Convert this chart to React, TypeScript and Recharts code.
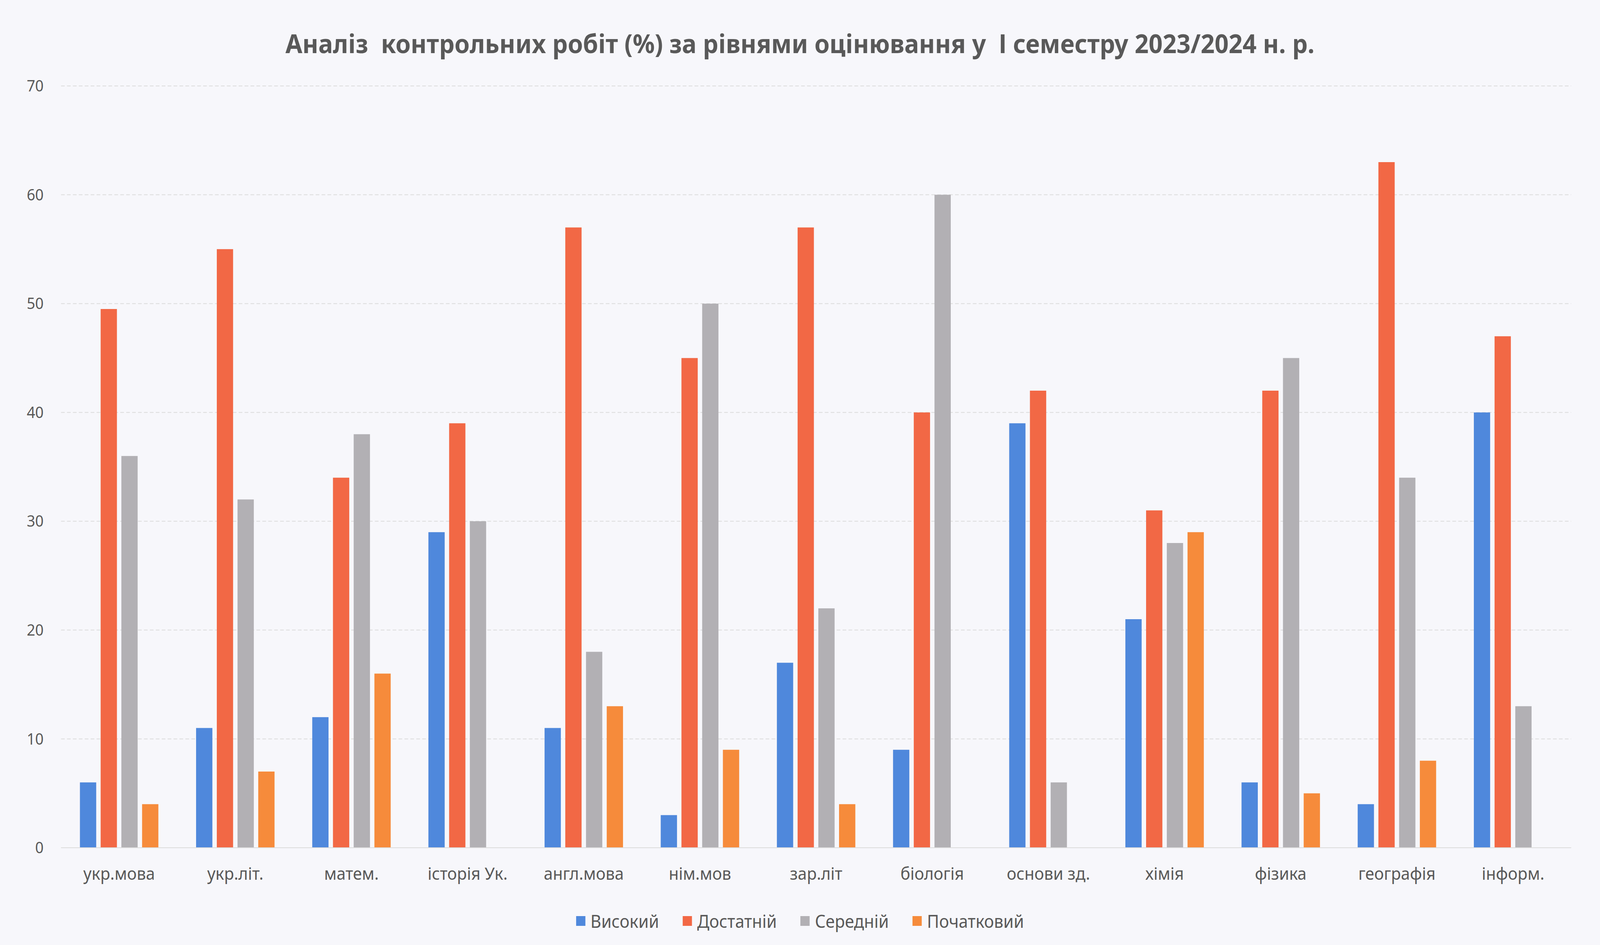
import { BarChart, Bar, XAxis, YAxis, CartesianGrid, Legend } from 'recharts';

const subjects = [
  'укр.мова',
  'укр.літ.',
  'матем.',
  'історія Ук.',
  'англ.мова',
  'нім.мов',
  'зар.літ',
  'біологія',
  'основи зд.',
  'хімія',
  'фізика',
  'географія',
  'інформ.',
];

const high = [6, 11, 12, 29, 11, 3, 17, 9, 39, 21, 6, 4, 40];
const sufficient = [49.5, 55, 34, 39, 57, 45, 57, 40, 42, 31, 42, 63, 47];
const middle = [36, 32, 38, 30, 18, 50, 22, 60, 6, 28, 45, 34, 13];
const initial = [4, 7, 16, 0, 13, 9, 4, 0, 0, 29, 5, 8, 0];

const yTicks = [0, 10, 20, 30, 40, 50, 60, 70];

const chartData = subjects.map((name, i) => ({
  name,
  high: high[i],
  sufficient: sufficient[i],
  middle: middle[i],
  initial: initial[i],
}));

const series = [
  { key: 'high', name: 'Високий', color: '#4f88dc' },
  { key: 'sufficient', name: 'Достатній', color: '#f26845' },
  { key: 'middle', name: 'Середній', color: '#b2b0b4' },
  { key: 'initial', name: 'Початковий', color: '#f68b3b' },
];

const FONT = '"Noto Sans", "Open Sans", sans-serif';
const W = 4324;
const H = 2419;

// legend drawn by hand so the order and spacing stay like the original
const renderLegend = () => (
  <div
    style={{
      height: 129,
      boxSizing: 'border-box',
      paddingTop: 6,
      display: 'flex',
      justifyContent: 'center',
      gap: 64,
      fontSize: 45,
      lineHeight: '50px',
      color: '#595959',
      fontFamily: FONT,
    }}
  >
    {series.map((s) => (
      <div key={s.key} style={{ display: 'flex', alignItems: 'center' }}>
        <span
          style={{
            display: 'inline-block',
            width: 25,
            height: 25,
            background: s.color,
            marginRight: 14,
          }}
        />
        {s.name}
      </div>
    ))}
  </div>
);

const App = () => {
  // the browser window may be narrower than the chart, so squeeze it to fit
  const fit = Math.min(1, (window.innerWidth || W) / W);
  return (
    <div
      style={{
        position: 'absolute',
        left: 0,
        top: 0,
        width: W,
        height: H,
        overflow: 'hidden',
        background: '#f7f7fb',
        fontFamily: FONT,
        transform: `scaleX(${fit})`,
        transformOrigin: '0 0',
      }}
    >
      <div
        style={{
          position: 'absolute',
          left: 0,
          top: 68,
          width: W,
          textAlign: 'center',
          fontSize: 66,
          fontWeight: 700,
          color: '#595959',
          lineHeight: '84px',
        }}
      >
        Аналіз&nbsp; контрольних робіт (%) за рівнями оцінювання у&nbsp; І семестру 2023/2024 н. р.
      </div>
      <BarChart
        width={W}
        height={H}
        data={chartData}
        margin={{ top: 220, right: 78, left: 0, bottom: 0 }}
        barSize={44}
        barGap={12}
        barCategoryGap={50}
      >
        <CartesianGrid vertical={false} stroke="#dcdcdc" strokeDasharray="10 6" strokeWidth={2} />
        <XAxis
          dataKey="name"
          height={120}
          axisLine={{ stroke: '#dcdcdc', strokeWidth: 2 }}
          tickLine={false}
          tickMargin={45}
          tick={{ fontSize: 44, fill: '#595959', fontFamily: FONT }}
          interval={0}
        />
        <YAxis
          width={165}
          domain={[0, 70]}
          ticks={yTicks}
          axisLine={false}
          tickLine={false}
          tickSize={0}
          tickMargin={47}
          tick={{ fontSize: 40, fill: '#595959', fontFamily: FONT }}
        />
        <Legend
          verticalAlign="bottom"
          height={129}
          content={renderLegend}
          wrapperStyle={{ left: 0, width: W }}
        />
        {series.map((s) => (
          <Bar
            key={s.key}
            dataKey={s.key}
            name={s.name}
            fill={s.color}
            isAnimationActive={false}
          />
        ))}
      </BarChart>
    </div>
  );
};

export default App;
